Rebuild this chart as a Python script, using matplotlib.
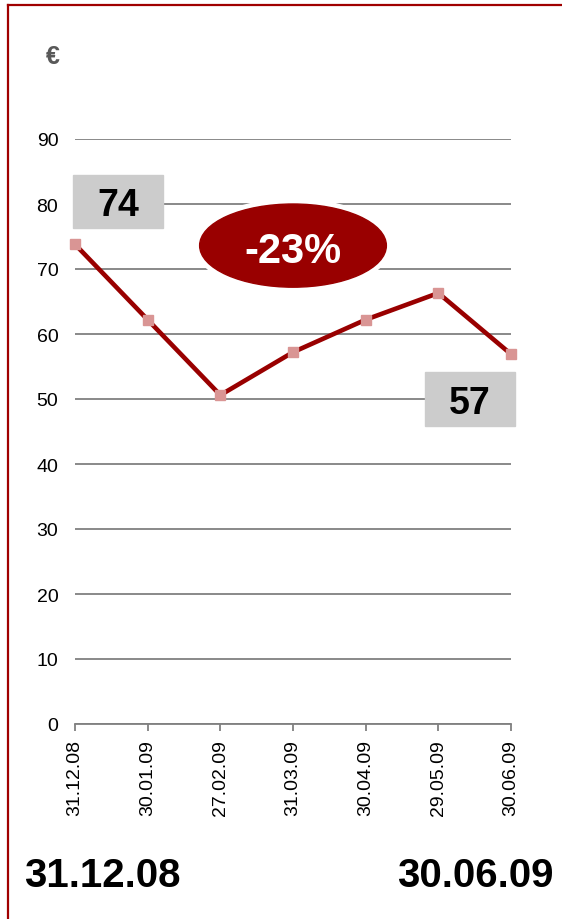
import matplotlib.pyplot as plt
from matplotlib.patches import Ellipse, Rectangle
from matplotlib.lines import Line2D

plt.rcParams['font.family'] = ['Liberation Sans', 'DejaVu Sans']

dates = ['31.12.08', '30.01.09', '27.02.09', '31.03.09', '30.04.09', '29.05.09', '30.06.09']
prices = [73.8, 62.2, 50.6, 57.2, 62.2, 66.3, 56.9]
yticks = [0, 10, 20, 30, 40, 50, 60, 70, 80, 90]

red = '#990000'
grey = '#808080'

fig = plt.figure(figsize=(5.62, 9.2), dpi=100)
ax = fig.add_axes([75 / 562, 195 / 920, 436 / 562, 585 / 920])

x = list(range(len(dates)))
ax.plot(x, prices, color=red, lw=3.3, zorder=3)
ax.plot(x, prices, ls='none', marker='s', ms=7, color='#D99594', zorder=4, clip_on=False)

ax.set_xlim(0, len(dates) - 1)
ax.set_ylim(0, 90)
ax.set_yticks(yticks)
ax.set_xticks(x)
ax.set_xticklabels(dates, rotation=90, va='top', ha='center')
ax.yaxis.grid(True, color=grey, lw=1.3)
ax.set_axisbelow(True)
for s in ['top', 'right', 'left']:
    ax.spines[s].set_visible(False)
ax.spines['bottom'].set_color(grey)
ax.spines['bottom'].set_linewidth(1.3)
ax.tick_params(axis='y', length=0, pad=12, labelsize=14)
ax.tick_params(axis='x', direction='out', length=5, width=1.3, color=grey, pad=6, labelsize=14)

# change from first to last value
pct = round((prices[-1] / prices[0] - 1) * 100)
ex, ey = 3.0, 73.6
ax.add_patch(Ellipse((ex, ey), 2.71, 14.3, color='white', zorder=5, clip_on=False))
ax.add_patch(Ellipse((ex, ey), 2.57, 12.8, color=red, zorder=6, clip_on=False))
ax.text(ex, ey - 0.2, f'{pct}%', color='white', fontsize=30, fontweight='bold',
        ha='center', va='center_baseline', zorder=7)

# value boxes for the first and last point
ax.add_patch(Rectangle((-0.03, 76.3), 1.24, 8.2, color='#CCCCCC', zorder=5, clip_on=False))
ax.text(0.59, 80.4, f'{prices[0]:.0f}', fontsize=27, fontweight='bold',
        ha='center', va='center_baseline', zorder=7)
ax.add_patch(Rectangle((4.81, 45.9), 1.24, 8.2, color='#CCCCCC', zorder=5, clip_on=False))
ax.text(5.43, 50.0, f'{prices[-1]:.0f}', fontsize=27, fontweight='bold',
        ha='center', va='center_baseline', zorder=7, clip_on=False)

fig.text(53 / 562, 1 - 57 / 920, '€', color='#595959', fontsize=18, fontweight='bold',
         ha='center', va='center')
fig.text(24 / 562, 1 - 872 / 920, dates[0], fontsize=29, fontweight='bold',
         ha='left', va='center_baseline')
fig.text(554 / 562, 1 - 872 / 920, dates[-1], fontsize=29, fontweight='bold',
         ha='right', va='center_baseline')

# frame lines
fig.add_artist(Line2D([8 / 562, 8 / 562], [0, 1 - 6 / 920], color='#A00000', lw=1.6))
fig.add_artist(Line2D([8 / 562, 1], [1 - 6 / 920, 1 - 6 / 920], color='#A00000', lw=1.6))

fig.savefig('out.png', dpi=100)
